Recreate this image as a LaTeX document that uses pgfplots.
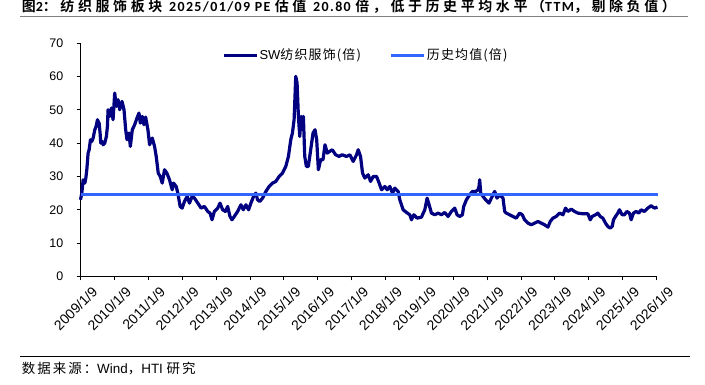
\documentclass[border=0pt]{standalone}
\usepackage{fontspec}
\setmainfont{Liberation Sans}
\newfontfamily\cjk{Noto Sans CJK SC}
\newfontfamily\cjkt{Noto Sans CJK SC Bold}[LetterSpace=26]
\newfontfamily\carl{Carlito Bold}[LetterSpace=10]
\newfontfamily\cjkl{Noto Sans CJK SC}[LetterSpace=9]
\newfontfamily\cjks{Noto Sans CJK SC}[LetterSpace=15]
\usepackage{pgfplots}
\pgfplotsset{compat=1.18}
\definecolor{navy}{RGB}{0,0,128}
\definecolor{meanblue}{RGB}{51,102,255}
\begin{document}
\begin{tikzpicture}
\useasboundingbox (0,0) rectangle (705bp,385bp);
% title
\node[anchor=base west, inner sep=0pt] at (21.7bp,373.3bp) {\fontsize{14}{16}\selectfont
{\cjkt 图}{\carl 2}{\cjkt ：纺织服饰板块 }{\carl 2025/01/09 PE }{\cjkt 估值 }{\carl 20.80 }{\cjkt 倍，低于历史平均水平（}{\carl TTM}{\cjkt ，剔除负值）}};
\draw[gray, line width=1bp] (20bp,368.3bp) -- (688bp,368.3bp);
% source
\draw[black, line width=0.8bp] (20bp,28.3bp) -- (690bp,28.3bp);
\node[anchor=base west, inner sep=0pt] at (21.7bp,12bp) {\fontsize{13.5}{15}\selectfont
{\cjks 数据来源：}Wind{\cjks ，}HTI {\cjks 研究}};
\begin{axis}[
  at={(80.5bp,108.5bp)}, anchor=south west,
  scale only axis, width=576bp, height=233.5bp,
  xmin=2009, xmax=2026, ymin=0, ymax=70,
  axis lines*=left,
  axis line style={black, line width=0.8bp},
  xtick={2009,2010,...,2026},
  xticklabels={2009/1/9,2010/1/9,2011/1/9,2012/1/9,2013/1/9,2014/1/9,2015/1/9,2016/1/9,2017/1/9,2018/1/9,2019/1/9,2020/1/9,2021/1/9,2022/1/9,2023/1/9,2024/1/9,2025/1/9,2026/1/9},
  ytick={0,10,...,70},
  tick align=outside, major tick length=4bp,
  tick style={black, line width=0.8bp},
  xticklabel style={rotate=45, anchor=north east, inner sep=0pt, xshift=4bp, yshift=-11bp, font=\fontsize{14}{15}\selectfont},
  yticklabel style={anchor=east, inner sep=0pt, xshift=-13bp, font=\fontsize{12.5}{14}\selectfont},
  /pgf/number format/assume math mode=true,
  clip=false,
  legend style={at={(axis description cs:0.2455,0.948)}, anchor=west, draw=none, fill=none,
    inner sep=0pt, outer sep=0pt, legend columns=2, font=\fontsize{13}{15}\selectfont,
    /tikz/every even column/.append style={column sep=27bp}, nodes={inner sep=1.5bp}},
  legend image code/.code={\draw[#1] (0bp,0bp) -- (33bp,0bp);},
]
\addplot[navy, line width=3.2bp, line join=round] coordinates {
(2009.000,23.0) (2009.039,25.0) (2009.078,29.0) (2009.127,28.0) (2009.157,29.5) (2009.186,32.0)
(2009.225,37.0) (2009.255,38.0) (2009.294,41.0) (2009.333,40.5) (2009.373,41.5) (2009.422,44.0)
(2009.461,45.0) (2009.500,47.0) (2009.549,46.0) (2009.578,43.0) (2009.598,40.0) (2009.637,40.5)
(2009.667,39.5) (2009.716,40.0) (2009.765,42.0) (2009.794,45.0) (2009.814,50.0) (2009.863,48.0)
(2009.912,50.5) (2009.961,47.0) (2010.010,55.0) (2010.039,52.5) (2010.059,51.0) (2010.108,53.0)
(2010.157,50.0) (2010.225,52.5) (2010.284,50.0) (2010.333,44.0) (2010.373,41.0) (2010.431,43.0)
(2010.471,39.0) (2010.529,44.0) (2010.598,45.5) (2010.667,47.5) (2010.725,49.0) (2010.765,46.0)
(2010.824,48.0) (2010.873,45.5) (2010.922,47.8) (2010.990,44.0) (2011.039,39.5) (2011.118,41.5)
(2011.186,39.0) (2011.235,36.0) (2011.294,31.0) (2011.353,30.0) (2011.412,28.0) (2011.480,32.0)
(2011.549,31.0) (2011.627,29.0) (2011.706,26.0) (2011.745,28.0) (2011.824,27.0) (2011.873,25.0)
(2011.941,21.0) (2012.000,20.5) (2012.069,22.5) (2012.147,24.0) (2012.216,22.0) (2012.294,24.0)
(2012.363,23.5) (2012.461,22.0) (2012.559,20.5) (2012.657,21.0) (2012.755,19.5) (2012.824,19.0)
(2012.882,17.0) (2012.951,19.5) (2013.049,20.5) (2013.118,22.0) (2013.196,20.0) (2013.275,19.5)
(2013.343,21.0) (2013.412,18.0) (2013.471,17.0) (2013.539,18.0) (2013.637,19.5) (2013.735,21.5)
(2013.804,20.0) (2013.882,21.5) (2013.961,20.0) (2014.029,22.0) (2014.108,24.0) (2014.176,25.0)
(2014.225,23.0) (2014.294,22.5) (2014.373,23.5) (2014.471,25.5) (2014.569,27.0) (2014.667,28.0)
(2014.765,28.5) (2014.863,30.0) (2014.961,31.0) (2015.059,33.0) (2015.137,36.0) (2015.206,41.0)
(2015.255,43.0) (2015.304,47.0) (2015.353,60.0) (2015.392,58.0) (2015.431,48.0) (2015.471,42.0)
(2015.510,48.0) (2015.549,44.0) (2015.578,48.0) (2015.618,36.0) (2015.667,33.0) (2015.725,33.0)
(2015.794,38.0) (2015.863,43.0) (2015.922,44.0) (2015.971,41.0) (2016.020,32.0) (2016.088,35.0)
(2016.157,35.0) (2016.216,39.5) (2016.284,37.0) (2016.353,37.5) (2016.431,38.0) (2016.529,36.5)
(2016.627,36.0) (2016.725,36.5) (2016.850,36.0) (2016.950,36.5) (2017.049,34.5) (2017.147,36.5)
(2017.196,38.0) (2017.265,36.0) (2017.324,31.0) (2017.393,29.5) (2017.491,30.5) (2017.560,28.5)
(2017.639,30.0) (2017.737,30.0) (2017.815,28.0) (2017.884,26.0) (2017.982,27.0) (2018.051,26.0)
(2018.130,27.0) (2018.208,25.0) (2018.277,26.5) (2018.375,25.5) (2018.424,23.0) (2018.473,21.5)
(2018.523,20.0) (2018.621,19.2) (2018.719,18.5) (2018.768,17.0) (2018.837,18.5) (2018.935,17.5)
(2019.063,17.8) (2019.161,20.0) (2019.230,23.5) (2019.289,21.5) (2019.358,19.0) (2019.456,18.5)
(2019.554,19.0) (2019.652,18.5) (2019.750,19.2) (2019.849,18.0) (2019.947,19.5) (2020.045,20.5)
(2020.114,18.5) (2020.193,18.0) (2020.271,18.5) (2020.310,21.0) (2020.389,23.0) (2020.487,24.5)
(2020.566,25.5) (2020.664,25.5) (2020.733,26.0) (2020.762,27.0) (2020.782,29.0) (2020.811,25.0)
(2020.880,24.0) (2020.959,23.0) (2021.057,22.0) (2021.126,23.5) (2021.224,25.5) (2021.293,23.5)
(2021.371,24.5) (2021.470,23.5) (2021.519,19.5) (2021.568,19.0) (2021.666,18.5) (2021.764,18.0)
(2021.862,17.5) (2021.961,19.0) (2022.039,18.5) (2022.108,17.0) (2022.206,16.0) (2022.305,15.5)
(2022.403,16.0) (2022.501,16.5) (2022.599,16.0) (2022.697,15.5) (2022.796,14.8) (2022.864,16.5)
(2022.943,17.5) (2023.041,18.0) (2023.139,19.0) (2023.238,18.5) (2023.316,20.5) (2023.385,19.5)
(2023.483,20.2) (2023.582,19.5) (2023.680,19.0) (2023.827,18.8) (2023.975,18.8) (2024.043,17.0)
(2024.102,18.0) (2024.200,18.5) (2024.269,19.0) (2024.338,18.0) (2024.417,17.5) (2024.495,16.0)
(2024.564,15.0) (2024.633,14.5) (2024.692,15.0) (2024.731,17.0) (2024.790,18.0) (2024.859,19.0)
(2024.908,20.0) (2024.986,18.5) (2025.055,18.5) (2025.124,19.5) (2025.202,19.0) (2025.251,17.0)
(2025.320,19.0) (2025.399,19.5) (2025.477,19.0) (2025.546,20.0) (2025.644,19.5) (2025.743,20.5)
(2025.841,21.2) (2025.939,20.5) (2026.030,20.8)
};
\addlegendentry{SW{\cjkl 纺织服饰(倍)}}
\addplot[meanblue, line width=3bp] coordinates {(2009,24.7) (2026.03,24.7)};
\addlegendentry{{\cjkl 历史均值(倍)}}
\end{axis}
\end{tikzpicture}
\end{document}
